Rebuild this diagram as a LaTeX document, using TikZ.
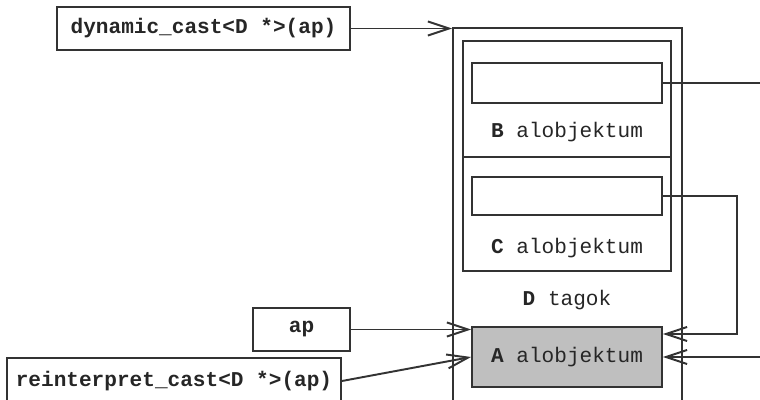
\documentclass[tikz,border=0pt]{standalone}
\usepackage{fontspec}
\setmonofont{Liberation Mono}
\usetikzlibrary{arrows.meta}

\begin{document}
\begin{tikzpicture}[x=0.02cm,y=-0.02cm,line width=1.1pt,draw=black!80,
    font=\ttfamily\fontsize{12}{14}\selectfont,
    >={Straight Barb[length=12pt,width=8pt]}]

      \clip (0,0) rectangle (760,399);

      \begin{scope}[every node/.style={draw,inner sep=0pt,text=black!85}]
        \node[minimum width=5.86cm,minimum height=0.86cm] (dyn)   at (203.5,28.5) {\bfseries dynamic\_cast<D *>(ap)};
        \node[minimum width=1.94cm,minimum height=0.86cm] (ap)    at (301.5,329.5) {\bfseries ap};
        \node[minimum width=6.68cm,minimum height=0.92cm] (reint) at (174,381) {\bfseries reinterpret\_cast<D *>(ap)};
        \node[minimum width=4.58cm,minimum height=7.64cm] (D)     at (567.5,219) {};
        \node[minimum width=4.16cm,minimum height=2.32cm] (B)     at (567,99) {};
        \node[minimum width=4.16cm,minimum height=2.28cm] (C)     at (567,214) {};
        \node[minimum width=3.8cm,minimum height=0.8cm]   (Bf)    at (567,83) {};
        \node[minimum width=3.8cm,minimum height=0.76cm]  (Cf)    at (567,196) {};
        \node[minimum width=3.8cm,minimum height=1.2cm,fill=black!25] (A) at (567,357) {{\bfseries A} alobjektum};
      \end{scope}

      \begin{scope}[every node/.style={text=black!85}]
        \node (Blab) at (567,132) {{\bfseries B} alobjektum};
        \node (Clab) at (567,248) {{\bfseries C} alobjektum};
        \node (Dlab) at (567,300) {{\bfseries D} tagok};
      \end{scope}

      \coordinate (bout) at (770,83);
      \coordinate (cbend) at (737,196);
      \coordinate (ain) at (770,357);

      \begin{scope}[every edge/.style={draw,->}]
        \path (dyn.east) edge (dyn.east -| D.west);
        \path (ap.east)  edge (ap.east -| A.west);
        \path (reint.east) edge (A.west);
        \path (ain) edge (A.east);
      \end{scope}

      \draw (Bf.east) -- (bout);
      \draw[->] (Cf.east) -- (cbend) |- ([yshift=0.46cm]A.east);

    \end{tikzpicture}
\end{document}
